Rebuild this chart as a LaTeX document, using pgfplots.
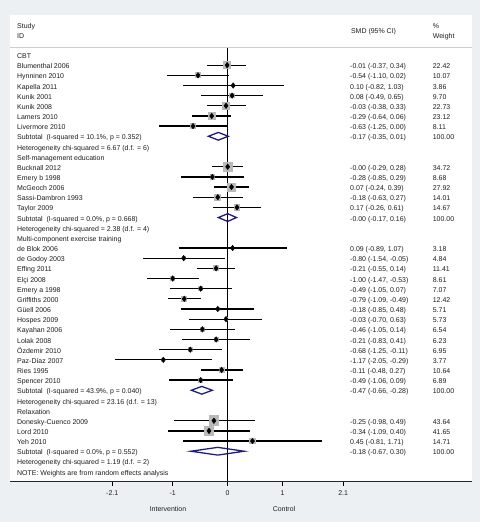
\documentclass[border=0pt]{standalone}
\usepackage{pgfplots}
\pgfplotsset{compat=1.18}
\usepackage{pgfplotstable}
\usepackage{fontspec}
\setmainfont{Liberation Sans}
\definecolor{bg}{RGB}{236,240,242}
\definecolor{navy}{RGB}{30,30,120}
\definecolor{boxgray}{RGB}{185,185,185}
\definecolor{sepgray}{RGB}{205,205,205}
\definecolor{txtc}{RGB}{30,30,30}

\pgfplotstableread{
row est lo hi w
1 -0.01 -0.37 0.34 22.42
2 -0.54 -1.10 0.02 10.07
3 0.10 -0.82 1.03 3.86
4 0.08 -0.49 0.65 9.70
5 -0.03 -0.38 0.33 22.73
6 -0.29 -0.64 0.06 23.12
7 -0.63 -1.25 0.00 8.11
11 -0.00 -0.29 0.28 34.72
12 -0.28 -0.85 0.29 8.68
13 0.07 -0.24 0.39 27.92
14 -0.18 -0.63 0.27 14.01
15 0.17 -0.26 0.61 14.67
19 0.09 -0.89 1.07 3.18
20 -0.80 -1.54 -0.05 4.84
21 -0.21 -0.55 0.14 11.41
22 -1.00 -1.47 -0.53 8.61
23 -0.49 -1.05 0.07 7.07
24 -0.79 -1.09 -0.49 12.42
25 -0.18 -0.85 0.48 5.71
26 -0.03 -0.70 0.63 5.73
27 -0.46 -1.05 0.14 6.54
28 -0.21 -0.83 0.41 6.23
29 -0.68 -1.25 -0.11 6.95
30 -1.17 -2.05 -0.29 3.77
31 -0.11 -0.48 0.27 10.64
32 -0.49 -1.06 0.09 6.89
36 -0.25 -0.98 0.49 43.64
37 -0.34 -1.09 0.40 41.65
38 0.45 -0.81 1.71 14.71
}\studies

\newcommand{\fs}{\fontsize{7}{8.4}\selectfont}
\newcommand{\lt}[2]{\node[txt] at (axis cs:-3.831,-#1) {#2};}
\newcommand{\rt}[3]{\node[txt] at (axis cs:2.224,-#1) {#2};\node[txt] at (axis cs:3.727,-#1) {#3};}

\begin{document}
\begin{tikzpicture}[txt/.style={anchor=west,inner sep=0pt,text height=0.72em,text depth=0pt,font=\fs,text=txtc}]
\fill[bg] (-10bp,-41bp) rectangle (470bp,481bp);
\begin{axis}[
  at={(0,0)}, anchor=south west,
  scale only axis, width=462bp, height=466bp,
  xmin=-3.958, xmax=4.442, ymin=-41.93, ymax=3.937,
  axis x line*=bottom, axis y line=none,
  xtick={-2.1,-1,0,1,2.1}, xticklabels={-2.1,-1,0,1,2.1},
  ytick=\empty,
  tick align=outside, major tick length=5bp,
  tick style={black, line width=0.8pt},
  axis line style={black!85, line width=0.8pt},
  xticklabel style={font=\fs, text=txtc, yshift=-1.5bp},
  axis background/.style={fill=white},
  clip=false,
]
% separator and zero line
\draw[sepgray, line width=0.8pt] (axis cs:-3.958,0.74) -- (axis cs:4.442,0.74);
\addplot[black, line width=0.9pt] coordinates {(0,0.69) (0,-41.93)};
% weight boxes
\addplot[boxgray, scatter, only marks, mark=square*,
  mark options={draw=boxgray, fill=boxgray, line width=0pt},
  scatter/use mapped color={draw=boxgray, fill=boxgray},
  visualization depends on={0.75*sqrt(\thisrow{w}) \as \msz},
  scatter/@pre marker code/.append style={/tikz/mark size=\msz}]
  table[x=est, y expr=-\thisrow{row}] {\studies};
% CIs and point estimates
\addplot[only marks, mark=diamond*, mark size=2.8pt, black,
  error bars/.cd, x dir=both, x explicit, error mark=none,
  error bar style={line width=1.3pt, black}]
  table[x=est, y expr=-\thisrow{row},
        x error plus expr=\thisrow{hi}-\thisrow{est},
        x error minus expr=\thisrow{est}-\thisrow{lo}] {\studies};
% subtotal diamonds
\addplot[navy, line width=1.3pt] coordinates {(-0.35,-8) (-0.17,-7.62) (0.01,-8) (-0.17,-8.38)} -- cycle;
\addplot[navy, line width=1.3pt] coordinates {(-0.17,-16) (-0.00,-15.62) (0.16,-16) (-0.00,-16.38)} -- cycle;
\addplot[navy, line width=1.3pt] coordinates {(-0.66,-33) (-0.47,-32.62) (-0.28,-33) (-0.47,-33.38)} -- cycle;
\addplot[navy, line width=1.3pt] coordinates {(-0.67,-39) (-0.18,-38.62) (0.30,-39) (-0.18,-39.38)} -- cycle;
% header
\node[txt] at (axis cs:-3.831,2.95) {Study};
\node[txt] at (axis cs:-3.831,1.97) {ID};
\node[txt] at (axis cs:2.24,2.5) {SMD (95\% CI)};
\node[txt] at (axis cs:3.727,3.0) {\%};
\node[txt] at (axis cs:3.727,2.0) {Weight};
% left column
\lt{0}{CBT}
\lt{1}{Blumenthal 2006}
\lt{2}{Hynninen 2010}
\lt{3}{Kapella 2011}
\lt{4}{Kunik 2001}
\lt{5}{Kunik 2008}
\lt{6}{Lamers 2010}
\lt{7}{Livermore 2010}
\lt{8}{Subtotal\ \ (I-squared = 10.1\%, p = 0.352)}
\lt{9}{Heterogeneity chi-squared = 6.67 (d.f. = 6)}
\lt{10}{Self-management education}
\lt{11}{Bucknall 2012}
\lt{12}{Emery b 1998}
\lt{13}{McGeoch 2006}
\lt{14}{Sassi-Dambron 1993}
\lt{15}{Taylor 2009}
\lt{16}{Subtotal\ \ (I-squared = 0.0\%, p = 0.668)}
\lt{17}{Heterogeneity chi-squared = 2.38 (d.f. = 4)}
\lt{18}{Multi-component exercise training}
\lt{19}{de Blok 2006}
\lt{20}{de Godoy 2003}
\lt{21}{Effing 2011}
\lt{22}{Elçi 2008}
\lt{23}{Emery a 1998}
\lt{24}{Griffiths 2000}
\lt{25}{Güell 2006}
\lt{26}{Hospes 2009}
\lt{27}{Kayahan 2006}
\lt{28}{Lolak 2008}
\lt{29}{Özdemir 2010}
\lt{30}{Paz-Díaz 2007}
\lt{31}{Ries 1995}
\lt{32}{Spencer 2010}
\lt{33}{Subtotal\ \ (I-squared = 43.9\%, p = 0.040)}
\lt{34}{Heterogeneity chi-squared = 23.16 (d.f. = 13)}
\lt{35}{Relaxation}
\lt{36}{Donesky-Cuenco 2009}
\lt{37}{Lord 2010}
\lt{38}{Yeh 2010}
\lt{39}{Subtotal\ \ (I-squared = 0.0\%, p = 0.552)}
\lt{40}{Heterogeneity chi-squared = 1.19 (d.f. = 2)}
\lt{41}{NOTE: Weights are from random effects analysis}
% right columns
\rt{1}{-0.01 (-0.37, 0.34)}{22.42}
\rt{2}{-0.54 (-1.10, 0.02)}{10.07}
\rt{3}{0.10 (-0.82, 1.03)}{3.86}
\rt{4}{0.08 (-0.49, 0.65)}{9.70}
\rt{5}{-0.03 (-0.38, 0.33)}{22.73}
\rt{6}{-0.29 (-0.64, 0.06)}{23.12}
\rt{7}{-0.63 (-1.25, 0.00)}{8.11}
\rt{8}{-0.17 (-0.35, 0.01)}{100.00}
\rt{11}{-0.00 (-0.29, 0.28)}{34.72}
\rt{12}{-0.28 (-0.85, 0.29)}{8.68}
\rt{13}{0.07 (-0.24, 0.39)}{27.92}
\rt{14}{-0.18 (-0.63, 0.27)}{14.01}
\rt{15}{0.17 (-0.26, 0.61)}{14.67}
\rt{16}{-0.00 (-0.17, 0.16)}{100.00}
\rt{19}{0.09 (-0.89, 1.07)}{3.18}
\rt{20}{-0.80 (-1.54, -0.05)}{4.84}
\rt{21}{-0.21 (-0.55, 0.14)}{11.41}
\rt{22}{-1.00 (-1.47, -0.53)}{8.61}
\rt{23}{-0.49 (-1.05, 0.07)}{7.07}
\rt{24}{-0.79 (-1.09, -0.49)}{12.42}
\rt{25}{-0.18 (-0.85, 0.48)}{5.71}
\rt{26}{-0.03 (-0.70, 0.63)}{5.73}
\rt{27}{-0.46 (-1.05, 0.14)}{6.54}
\rt{28}{-0.21 (-0.83, 0.41)}{6.23}
\rt{29}{-0.68 (-1.25, -0.11)}{6.95}
\rt{30}{-1.17 (-2.05, -0.29)}{3.77}
\rt{31}{-0.11 (-0.48, 0.27)}{10.64}
\rt{32}{-0.49 (-1.06, 0.09)}{6.89}
\rt{33}{-0.47 (-0.66, -0.28)}{100.00}
\rt{36}{-0.25 (-0.98, 0.49)}{43.64}
\rt{37}{-0.34 (-1.09, 0.40)}{41.65}
\rt{38}{0.45 (-0.81, 1.71)}{14.71}
\rt{39}{-0.18 (-0.67, 0.30)}{100.00}
% axis titles
\node[font=\fs, text=txtc, inner sep=0pt] at (axis cs:-1.085,-44.66) {Intervention};
\node[font=\fs, text=txtc, inner sep=0pt] at (axis cs:1.024,-44.66) {Control};
\end{axis}
\end{tikzpicture}
\end{document}
